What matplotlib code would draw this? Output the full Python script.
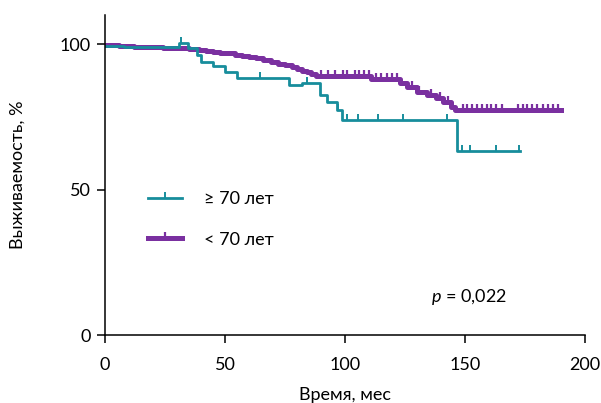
import numpy as np
import matplotlib
matplotlib.use("Agg")
import matplotlib.pyplot as plt
from matplotlib.lines import Line2D

plt.rcParams['font.family'] = ['Lato', 'DejaVu Sans']
plt.rcParams['font.size'] = 13
plt.rcParams['mathtext.fontset'] = 'custom'
plt.rcParams['mathtext.it'] = 'Lato:italic'
plt.rcParams['mathtext.rm'] = 'Lato'

# >= 70 years: step times (months) and survival (%)
old_t = [0, 8, 31, 34.5, 38.5, 40, 45, 50, 55, 76.5, 82, 89.5, 92.5, 96.5, 98.75, 146.5, 173]
old_s = [99.5, 99.0, 100.3, 98.5, 96.2, 93.9, 92.4, 90.5, 88.2, 85.9, 86.7, 82.5, 80.2, 77.3, 73.9, 63.2, 63.2]
old_cens = [31.5, 64.5, 84, 97, 101, 105.4, 113.75, 124, 142.5, 148.75, 152, 163, 172.5]

# < 70 years
young_t = [0, 6, 12, 18, 24, 30, 35, 39, 42, 45, 48, 51, 54, 57, 60, 63, 66, 69, 72,
           75, 78, 80, 82, 84, 86, 88, 111, 123, 126, 130, 134, 138, 141, 144, 146, 190]
young_s = [99.7, 99.4, 99.1, 98.9, 98.7, 98.5, 98.3, 98.0, 97.7, 97.4, 97.1, 96.8,
           96.4, 96.0, 95.6, 95.1, 94.5, 93.9, 93.3, 92.7, 92.1, 91.5, 90.9, 90.3,
           89.7, 89.2, 87.9, 86.7, 85.3, 83.6, 82.5, 81.3, 80.2, 78.4, 77.3, 77.3]
young_cens = [90, 93, 96, 99, 101, 104, 106, 108, 110, 113, 115, 117.5, 119.6, 121.7,
              128, 131, 136, 139.6, 143, 149, 151, 153, 155, 157, 159, 161, 163, 165.4,
              172, 174, 176, 178, 180, 182.5, 184.6, 186.7, 188.75]

teal = '#178d9c'
purple = '#7a30a0'
tick_up = [(0, 0), (0, 1)]


def at(times, surv, pts):
    idx = np.searchsorted(times, pts, side='right') - 1
    return np.array(surv)[idx]


fig = plt.figure(figsize=(6.01, 4.03), dpi=100)
ax = fig.add_axes([105 / 601, 1 - 335 / 403, 480 / 601, 320 / 403])

ax.step(young_t, young_s, where='post', color=purple, lw=3.6)
ax.plot(young_cens, at(young_t, young_s, young_cens), ls='none', marker=tick_up,
        ms=8, mew=1.6, color=purple)
ax.step(old_t, old_s, where='post', color=teal, lw=2.0)
ax.plot(old_cens, at(old_t, old_s, old_cens), ls='none', marker=tick_up,
        ms=9, mew=1.4, color=teal)

ax.set_xlim(0, 200)
ax.set_ylim(0, 110)
ax.set_xticks([0, 50, 100, 150, 200])
ax.set_yticks([0, 50, 100])
for s in ['top', 'right']:
    ax.spines[s].set_visible(False)
for s in ['left', 'bottom']:
    ax.spines[s].set_linewidth(1.1)
ax.tick_params(direction='out', length=6, width=1.1, labelsize=13)
ax.tick_params(axis='x', pad=10)
ax.tick_params(axis='y', pad=4)

ax.set_xlabel('Время, мес', fontsize=13, labelpad=10)
ax.set_ylabel('Выживаемость, %', fontsize=13, labelpad=25)

handles = [
    Line2D([0, 0.5, 1], [0, 0, 0], color=teal, lw=2.0, marker=tick_up, ms=9, mew=1.4,
           markevery=[1]),
    Line2D([0, 0.5, 1], [0, 0, 0], color=purple, lw=3.6, marker=tick_up, ms=8, mew=1.6,
           markevery=[1]),
]
ax.legend(handles, ['\u2265 70 лет', '< 70 лет'], loc='upper left',
          bbox_to_anchor=(0.055, 0.5), frameon=False, handlelength=1.9,
          handletextpad=1.2, labelspacing=1.35, fontsize=13)

ax.text(136, 13, r'$p$ = 0,022', fontsize=13, va='center')

fig.savefig('out.png', dpi=100)
